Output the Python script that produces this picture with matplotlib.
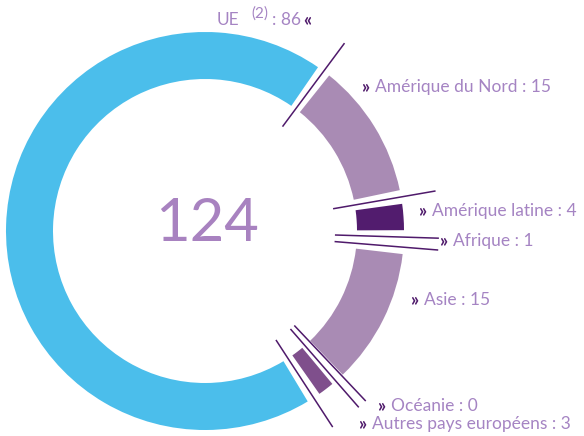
import matplotlib
matplotlib.use('Agg')
import matplotlib.pyplot as plt
from matplotlib.patches import Wedge
import numpy as np

# data (clockwise, starting after the UE block)
regions = ['Amérique du Nord', 'Amérique latine', 'Afrique', 'Asie', 'Océanie',
           'Autres pays européens', 'UE']
values = [15, 4, 1, 15, 0, 3, 86]
colors = ['#A98BB4', '#521C6E', '#521C6E', '#A98BB4', '#7F4F8C', '#7F4F8C', '#4BBEEB']
total = sum(values)

txt_col = '#A584C3'
dark = '#4F1A6B'

plt.rcParams['font.family'] = ['Lato', 'DejaVu Sans']

fig = plt.figure(figsize=(5.84, 4.36), dpi=100)
ax = fig.add_axes([0, 0, 1, 1])
ax.set_xlim(0, 584)
ax.set_ylim(436, 0)
ax.set_aspect('equal')
ax.axis('off')

cx, cy = 205, 231
r_in, r_out = 152, 199
gap = 2.0
start = 36.6  # clockwise from 12 o'clock

# y axis is inverted so wedge angles run clockwise on screen, 0 = 3 o'clock
def to_theta(cw):
    return cw - 90

cum = start
bounds = []
prev_zero = False
for name, v, c in zip(regions, values, colors):
    span = v / total * 360
    a0, a1 = cum, cum + span
    if span > 2 * gap:
        ax.add_patch(Wedge((cx, cy), r_out, to_theta(a0 + gap), to_theta(a1 - gap),
                           width=r_out - r_in, facecolor=c, edgecolor='none'))
    if v == 0:
        # empty slice: show it as a pair of close lines
        bounds += [a0 - 1.6, a0 + 0.7]
    elif not prev_zero:
        bounds.append(a0)
    prev_zero = (v == 0)
    cum = a1

for b in bounds:
    t = np.radians(to_theta(b))
    ax.plot([cx + 130 * np.cos(t), cx + 234 * np.cos(t)],
            [cy + 130 * np.sin(t), cy + 234 * np.sin(t)],
            color=dark, lw=1.1, solid_capstyle='butt')

ax.text(207, 224, str(total), ha='center', va='center', fontsize=43,
        color='#A882C0')

# labels
label_pos = {
    'Amérique du Nord': (361, 87),
    'Amérique latine': (418, 211),
    'Afrique': (439, 241),
    'Asie': (410, 300),
    'Océanie': (377, 406),
    'Autres pays européens': (358, 424),
}
for name, v in zip(regions, values):
    if name not in label_pos:
        continue
    x, y = label_pos[name]
    ax.text(x, y, '»', ha='left', va='center', fontsize=13, color=dark, fontweight='bold')
    ax.text(x + 14, y, f'{name} : {v}', ha='left', va='center', fontsize=12.5, color=txt_col)

ax.text(217, 20, 'UE', ha='left', va='center', fontsize=12.5, color=txt_col)
ax.text(251, 14, '(2)', ha='left', va='center', fontsize=11, color=txt_col)
ax.text(272, 20, f': {values[-1]}', ha='left', va='center', fontsize=12.5, color=txt_col)
ax.text(303, 20, '«', ha='left', va='center', fontsize=13, color=dark, fontweight='bold')

fig.savefig('out.png', dpi=100)
